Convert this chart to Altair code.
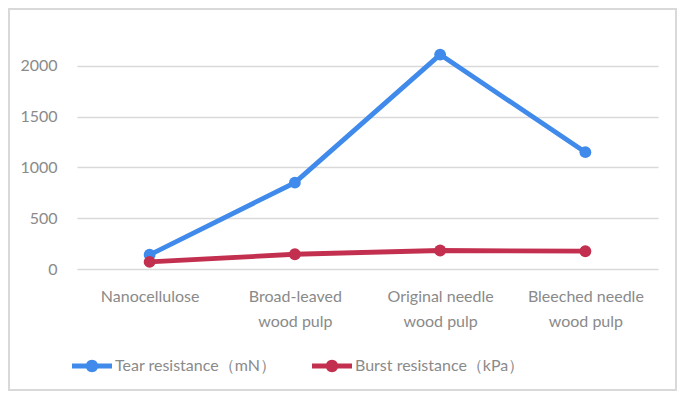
import altair as alt
import pandas as pd

categories = ["Nanocellulose", "Broad-leaved wood pulp", "Original needle wood pulp", "Bleeched needle wood pulp"]
series_names = ["Tear resistance（mN）", "Burst resistance（kPa）"]
tear = [140, 850, 2110, 1150]
burst = [70, 145, 182, 175]
colors = ["#3f8aea", "#c3304f"]
y_ticks = [0, 500, 1000, 1500, 2000]

rows = []
for i, c in enumerate(categories):
    rows.append({"cat": c, "series": series_names[0], "value": tear[i]})
    rows.append({"cat": c, "series": series_names[1], "value": burst[i]})
df = pd.DataFrame(rows)

W, H = 581, 254
PL, PT, PR, PB = 69, 7, 19, 122
FONT = "Lato"
GRAY = "#8a8a8a"

label_expr = (
    "datum.value == 'Nanocellulose' ? 'Nanocellulose' : "
    "datum.value == 'Broad-leaved wood pulp' ? ['Broad-leaved', 'wood pulp'] : "
    "datum.value == 'Original needle wood pulp' ? ['Original needle', 'wood pulp'] : "
    "['Bleeched needle', 'wood pulp']"
)

x = alt.X("cat:N", sort=categories, title=None,
          scale=alt.Scale(paddingInner=0, paddingOuter=0.5),
          axis=alt.Axis(labelAngle=0, labelExpr=label_expr, labelLineHeight=25,
                        labelPadding=19, ticks=False, domain=False, grid=False,
                        labelFont=FONT, labelFontSize=16, labelColor=GRAY))
y = alt.Y("value:Q", title=None,
          scale=alt.Scale(domain=[0, 2500], nice=False),
          axis=alt.Axis(values=y_ticks, format="d", ticks=False, domain=False, grid=True,
                        gridColor="#d9d9d9", gridWidth=1.5, labelPadding=20,
                        labelFont=FONT, labelFontSize=16, labelColor=GRAY))

sym = ("M-1,-0.12 L1,-0.12 L1,0.12 L-1,0.12 Z "
       "M0.31,0 A0.31,0.31 0 1,1 -0.31,0 A0.31,0.31 0 1,1 0.31,0 Z")

color = alt.Color("series:N", sort=series_names,
                  scale=alt.Scale(domain=series_names, range=colors),
                  legend=alt.Legend(title=None, orient="none", direction="horizontal",
                                    legendX=-5, legendY=331,
                                    symbolType=sym, symbolSize=1600,
                                    symbolStrokeWidth=0, symbolOpacity=1,
                                    symbolFillColor="#3f8aea",
                                    labelFont=FONT, labelFontSize=16, labelColor=GRAY,
                                    labelLimit=400,
                                    labelOffset=3, columnPadding=35))

base = alt.Chart(df)
lines = base.mark_line(strokeWidth=4.8).encode(x=x, y=y, color=color)
points = base.mark_point(filled=True, size=140, opacity=1).encode(x=x, y=y, color=color)

border = alt.Chart(pd.DataFrame({"a": [0]})).mark_rect(
    fill=None, stroke="#d9d9d9", strokeWidth=2
).encode(
    x=alt.value(-PL + 1), x2=alt.value(W + PR - 1),
    y=alt.value(-PT + 1), y2=alt.value(H + PB - 1),
)

chart = alt.layer(lines, points, border).properties(
    width=W, height=H,
    autosize=alt.AutoSizeParams(type="none"),
    padding={"left": PL, "top": PT, "right": PR, "bottom": PB},
).configure_view(stroke=None)

chart.save("out.html", embed_options={"renderer": "svg", "actions": False})
